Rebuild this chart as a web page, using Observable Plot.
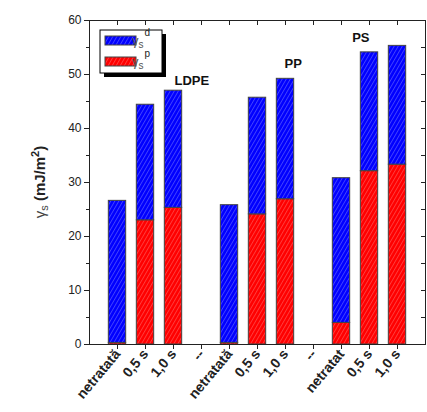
<!DOCTYPE html>
<html><head><meta charset="utf-8">
<script src="https://cdn.jsdelivr.net/npm/d3@7"></script>
<script src="https://cdn.jsdelivr.net/npm/@observablehq/plot@0.6"></script>
<style>
body{margin:0;background:#fff;font-family:"Liberation Sans",Arial,sans-serif}
#chart svg{display:block}
</style>
</head><body><div id="chart"></div>
<script>
const categories = ["netratată","0,5 s","1,0 s","--","netratată","0,5 s","1,0 s","--","netratat","0,5 s","1,0 s"];
const groups = ["LDPE","PP","PS"];
const groupLastBar = [3, 7, 10];
const polar = [0.3, 23.0, 25.3, null, 0.3, 24.1, 26.9, null, 4.0, 32.1, 33.3];
const dispersive = [26.3, 21.4, 21.7, null, 25.5, 21.6, 22.3, null, 26.8, 22.0, 22.0];
const yTicks = [0, 10, 20, 30, 40, 50, 60];
const yMinorTicks = [5, 15, 25, 35, 45, 55];
const rightTicks = [0, 5, 10, 15, 20, 25, 30, 35, 40, 45, 50, 55, 60];
const xTicks = [1, 2, 3, 4, 5, 6, 7, 8, 9, 10, 11];

const half = 0.31;
const rowsP = [], rowsD = [];
categories.forEach((c, i) => {
  if (polar[i] == null) return;
  const pos = i + 1;
  rowsP.push({x1: pos - half, x2: pos + half, y1: 0, y2: polar[i]});
  rowsD.push({x1: pos - half, x2: pos + half, y1: polar[i], y2: polar[i] + dispersive[i]});
});
const groupRows = groups.map((g, k) => {
  const i = groupLastBar[k] - 1;
  return {x: groupLastBar[k], y: polar[i] + dispersive[i], text: g};
});

const plot = Plot.plot({
  width: 427, height: 412,
  marginLeft: 89, marginRight: 2, marginTop: 20, marginBottom: 68,
  x: {domain: [0, 12]},
  y: {domain: [0, 60]},
  style: {fontFamily: '"Liberation Sans", Arial, sans-serif', color: "#222", background: "transparent"},
  marks: [
    Plot.rect(rowsP, {x1: "x1", x2: "x2", y1: "y1", y2: "y2", fill: "url(#hatchP)", stroke: "#444", strokeWidth: 1}),
    Plot.rect(rowsD, {x1: "x1", x2: "x2", y1: "y1", y2: "y2", fill: "url(#hatchD)", stroke: "#444", strokeWidth: 1}),
    Plot.text([groupRows[0]], {x: "x", y: "y", text: "text", textAnchor: "start", dx: 1, dy: -10, fontWeight: "bold", fontSize: 13, fill: "#111"}),
    Plot.text([groupRows[1]], {x: "x", y: "y", text: "text", textAnchor: "start", dx: -1, dy: -15, fontWeight: "bold", fontSize: 13, fill: "#111"}),
    Plot.text([groupRows[2]], {x: "x", y: "y", text: "text", textAnchor: "end", dx: 0, dy: -15, fontWeight: "bold", fontSize: 13, fill: "#111"}),
    Plot.axisY({ticks: yTicks, tickSize: 5, tickPadding: 3, fontSize: 12, label: null}),
    Plot.axisY({ticks: yMinorTicks, tickSize: 3, tickFormat: () => "", label: null}),
    Plot.axisY({anchor: "right", ticks: rightTicks, tickSize: -5, tickFormat: () => "", label: null}),
    Plot.axisX({ticks: xTicks, tickSize: 5, tickPadding: 2, tickRotate: -50, tickFormat: i => categories[i - 1], fontSize: 14, fontWeight: "bold", label: null}),
    Plot.axisX({anchor: "top", ticks: xTicks, tickSize: -4, tickFormat: () => "", label: null}),
    Plot.frame({stroke: "#222"})
  ]
});
document.getElementById("chart").appendChild(plot);

const svg = d3.select(plot);
const defs = svg.insert("defs", ":first-child");
function hatch(id, base, line) {
  const p = defs.append("pattern").attr("id", id).attr("patternUnits", "userSpaceOnUse")
    .attr("width", 3.5).attr("height", 6).attr("patternTransform", "rotate(30)");
  p.append("rect").attr("width", 3.5).attr("height", 6).attr("fill", base);
  p.append("line").attr("x1", 0.5).attr("x2", 0.5).attr("y1", 0).attr("y2", 6)
    .attr("stroke", line).attr("stroke-width", 0.8);
}
hatch("hatchD", "#0000ff", "rgba(150,150,255,0.55)");
hatch("hatchP", "#ff0000", "rgba(255,140,140,0.55)");

// y label
const yl = svg.append("text").attr("transform", "translate(45,182) rotate(-90)")
  .attr("text-anchor", "middle").attr("font-size", 15).attr("fill", "#222");
yl.append("tspan").attr("fill", "#444").text("γ");
yl.append("tspan").attr("font-size", 11).attr("dy", 3).attr("fill", "#444").text("s");
yl.append("tspan").attr("dy", -3).attr("font-weight", "bold").text(" (mJ/m");
yl.append("tspan").attr("font-size", 11).attr("dy", -6).attr("font-weight", "bold").text("2");
yl.append("tspan").attr("dy", 6).attr("font-weight", "bold").text(")");

// legend
const lg = svg.append("g");
lg.append("rect").attr("x", 104).attr("y", 34).attr("width", 62).attr("height", 43).attr("fill", "#000");
lg.append("rect").attr("x", 100).attr("y", 30).attr("width", 62).attr("height", 43).attr("fill", "#fff").attr("stroke", "#000");
const items = [["hatchD", "d", 36], ["hatchP", "p", 57]];
items.forEach(([id, sup, y]) => {
  lg.append("rect").attr("x", 105).attr("y", y).attr("width", 31).attr("height", 9)
    .attr("fill", `url(#${id})`).attr("stroke", "#444");
  const t = lg.append("text").attr("x", 141).attr("y", y + 9).attr("font-size", 13).attr("fill", "#555");
  t.append("tspan").text("γ");
  t.append("tspan").attr("font-size", 10).attr("dy", 3).text("s");
  t.append("tspan").attr("font-size", 10).attr("dx", 1).attr("dy", -12).attr("fill", "#222").text(sup);
});
</script>
</body></html>
